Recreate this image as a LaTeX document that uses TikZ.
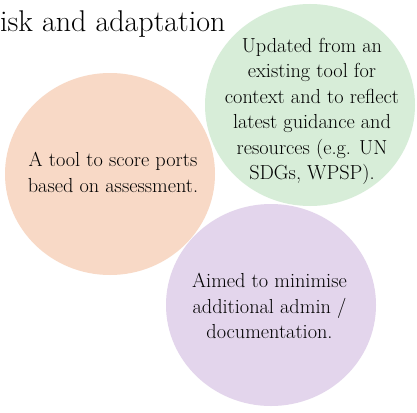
\documentclass[tikz,border=0pt]{standalone}
\usetikzlibrary{shapes.geometric}
\definecolor{peach}{HTML}{F8D9C6}
\definecolor{mint}{HTML}{D7EDD8}
\definecolor{lilac}{HTML}{E3D5EC}
\begin{document}
\begin{tikzpicture}[x=1pt,y=-1pt,
  blob/.style={draw=none,ellipse,minimum width=210pt,minimum height=202pt,inner sep=0pt},
  blurb/.style={align=center,inner sep=0pt,font=\rmfamily\fontsize{20.3}{25.5}\selectfont}]
  \useasboundingbox[fill=white] (0,0) rectangle (417,412);
  % three circles
  \node[blob,fill=peach] (tool) at (110,174) {};
  \node[blob,fill=mint]  (upd)  at (310,105) {};
  \node[blob,fill=lilac] (aim)  at (271,305) {};
  % heading, cut at the left edge
  \node[anchor=base west,inner sep=0pt,font=\rmfamily\fontsize{30}{36}\selectfont] (head) at (0,32) {isk and adaptation};
  % circle texts
  \node[blurb] (tooltxt) at (113,172.5) {A tool to score ports\\based on assessment.};
  \node[blurb] (updtxt)  at (312,111.5) {Updated from an\\existing tool for\\context and to reflect\\latest guidance and\\resources (e.g. UN\\SDGs, WPSP).};
  \node[blurb] (aimtxt)  at (269.5,306) {Aimed to minimise\\additional admin /\\documentation.};
\end{tikzpicture}
\end{document}
